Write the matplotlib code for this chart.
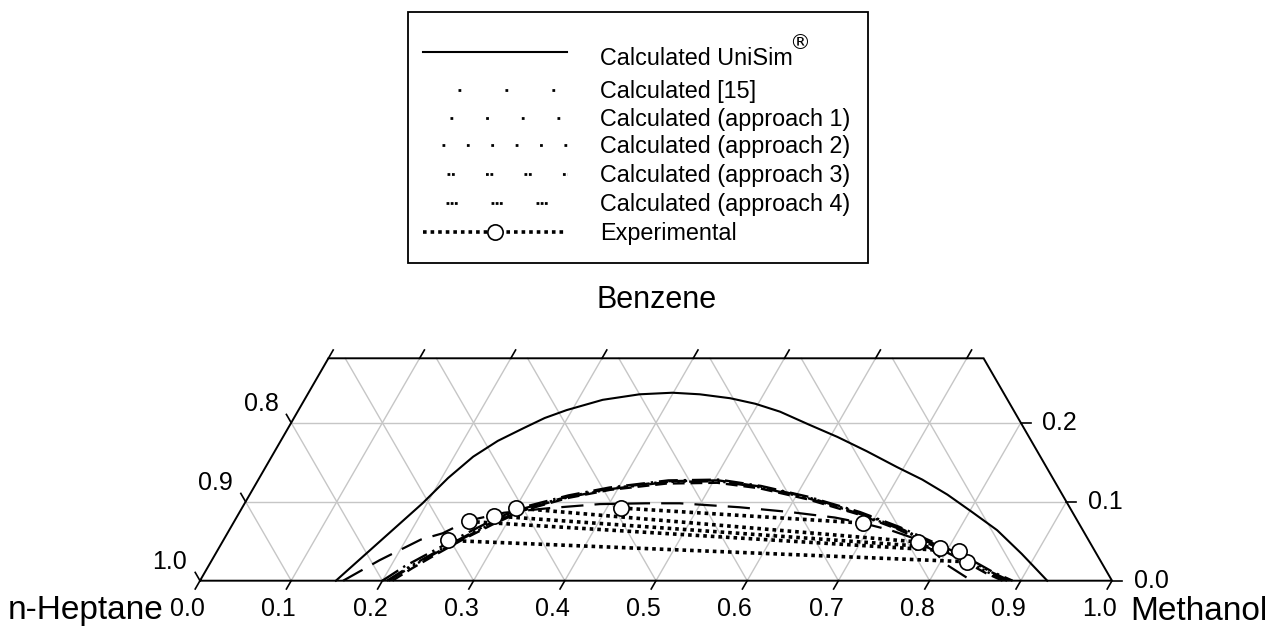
import numpy as np
import matplotlib
matplotlib.use("Agg")
import matplotlib.pyplot as plt
from matplotlib.patches import Rectangle

plt.rcParams["font.family"] = ["Liberation Sans", "DejaVu Sans"]

# compositions as (methanol, benzene) mole fractions, n-heptane is the rest
unisim_methanol = [0.149, 0.195, 0.207, 0.221, 0.238, 0.258, 0.275, 0.294, 0.327, 0.364,
                   0.399, 0.430, 0.466, 0.497, 0.529, 0.568, 0.608, 0.649, 0.692, 0.728,
                   0.765, 0.803, 0.842, 0.884, 0.929]
unisim_benzene = [0.000, 0.098, 0.130, 0.157, 0.177, 0.193, 0.206, 0.216, 0.229, 0.236,
                  0.238, 0.236, 0.231, 0.224, 0.214, 0.198, 0.182, 0.164, 0.144, 0.128,
                  0.109, 0.087, 0.064, 0.034, 0.000]

ref15_methanol = [0.157, 0.184, 0.216, 0.236, 0.256, 0.290, 0.338, 0.390, 0.440, 0.477,
                  0.545, 0.603, 0.656, 0.690, 0.725, 0.755, 0.785, 0.809, 0.846]
ref15_benzene = [0.000, 0.026, 0.052, 0.060, 0.076, 0.086, 0.092, 0.097, 0.098, 0.098,
                 0.093, 0.087, 0.080, 0.073, 0.064, 0.054, 0.038, 0.020, 0.000]

app1_methanol = [0.200, 0.215, 0.235, 0.255, 0.278, 0.305, 0.350, 0.390, 0.450, 0.505,
                 0.555, 0.615, 0.680, 0.733, 0.789, 0.827, 0.864, 0.891]
app1_benzene = [0.000, 0.018, 0.036, 0.054, 0.073, 0.092, 0.108, 0.118, 0.127, 0.128,
                0.120, 0.106, 0.087, 0.068, 0.045, 0.029, 0.011, 0.000]

app2_methanol = [0.211, 0.225, 0.243, 0.262, 0.285, 0.310, 0.352, 0.392, 0.450, 0.505,
                 0.555, 0.615, 0.680, 0.733, 0.787, 0.823, 0.856, 0.880]
app2_benzene = [0.000, 0.016, 0.034, 0.052, 0.071, 0.089, 0.105, 0.115, 0.123, 0.124,
                0.117, 0.103, 0.084, 0.065, 0.042, 0.026, 0.010, 0.000]

app3_methanol = [0.205, 0.220, 0.240, 0.260, 0.282, 0.308, 0.352, 0.392, 0.450, 0.505,
                 0.556, 0.616, 0.680, 0.733, 0.788, 0.826, 0.862, 0.888]
app3_benzene = [0.000, 0.017, 0.036, 0.054, 0.073, 0.091, 0.107, 0.117, 0.126, 0.127,
                0.119, 0.105, 0.086, 0.067, 0.044, 0.028, 0.011, 0.000]

app4_methanol = [0.207, 0.222, 0.241, 0.261, 0.283, 0.309, 0.352, 0.392, 0.450, 0.505,
                 0.556, 0.616, 0.680, 0.733, 0.788, 0.825, 0.860, 0.885]
app4_benzene = [0.000, 0.017, 0.035, 0.053, 0.072, 0.090, 0.106, 0.116, 0.125, 0.126,
                0.118, 0.104, 0.085, 0.066, 0.043, 0.027, 0.010, 0.000]

# experimental tie lines: heptane-rich end and methanol-rich end
exp_left_methanol = [0.246, 0.257, 0.281, 0.300, 0.416]
exp_left_benzene = [0.051, 0.075, 0.082, 0.092, 0.092]
exp_right_methanol = [0.829, 0.814, 0.790, 0.763, 0.690]
exp_right_benzene = [0.024, 0.037, 0.042, 0.049, 0.073]

tick_values = [0.0, 0.1, 0.2, 0.3, 0.4, 0.5, 0.6, 0.7, 0.8, 0.9, 1.0]
top_tick_values = [0.0, 0.1, 0.2, 0.3, 0.4, 0.5, 0.6, 0.7]
benzene_ticks = [0.0, 0.1, 0.2]
heptane_labels = ["1.0", "0.9", "0.8"]

legend_labels = ["Calculated UniSim", "Calculated [15]", "Calculated (approach 1)",
                 "Calculated (approach 2)", "Calculated (approach 3)",
                 "Calculated (approach 4)", "Experimental"]

B_TOP = 0.2816
SQ = np.sqrt(3) / 2
PX = 912.0          # pixels per unit of composition
X0, Y0 = 200.0, 580.7
FS = 18
LFS = 16.8


def tern(m, b):
    m = np.asarray(m, float)
    b = np.asarray(b, float)
    return m + b / 2, b * SQ


def px(x, y):
    return (x - X0) / PX, (Y0 - y) / PX


fig = plt.figure(figsize=(12.79, 6.33), dpi=100)
ax = fig.add_axes([0, 0, 1, 1])
ax.set_xlim(-X0 / PX, (1279 - X0) / PX)
ax.set_ylim(-(633 - Y0) / PX, Y0 / PX)
ax.axis("off")

grid_kw = dict(color="#c6c6c6", lw=1.0, zorder=1)
for v in np.arange(1, 10) / 10:
    bmax = min(B_TOP, 1 - v)
    # constant methanol
    x, y = tern([v, v], [0, bmax])
    ax.plot(x, y, **grid_kw)
    # constant heptane
    x, y = tern([1 - v, 1 - v - bmax], [0, bmax])
    ax.plot(x, y, **grid_kw)
for v in [0.1, 0.2]:
    x, y = tern([0, 1 - v], [v, v])
    ax.plot(x, y, **grid_kw)

# frame of the truncated triangle
x, y = tern([0, 1, 1 - B_TOP, 0, 0], [0, 0, B_TOP, B_TOP, 0])
ax.plot(x, y, color="black", lw=1.4, zorder=3, solid_joinstyle="miter")

tl = 0.0105
for m in tick_values:
    x, y = tern(m, 0)
    ax.plot([x, x - 0.5 * tl], [y, y - SQ * tl], color="black", lw=1.2, zorder=3)
    ax.text(x - 12.5 / PX, px(0, 609)[1], f"{m:.1f}", ha="center", va="center", fontsize=FS)
for m in top_tick_values:
    x, y = tern(m, B_TOP)
    ax.plot([x, x + 0.5 * tl], [y, y + SQ * tl], color="black", lw=1.2, zorder=3)
for b, lab in zip(benzene_ticks, heptane_labels):
    x, y = tern(0, b)
    ax.plot([x, x - 0.5 * tl], [y, y + SQ * tl], color="black", lw=1.2, zorder=3)
    ax.text(x - 30 / PX, y + 19 / PX, lab, ha="center", va="center", fontsize=FS)
for b in benzene_ticks:
    x, y = tern(1 - b, b)
    ax.plot([x, x + 0.011], [y, y], color="black", lw=1.2, zorder=3)
    ax.text(x + 39 / PX, y, f"{b:.1f}", ha="center", va="center", fontsize=FS)

ax.text(*px(86, 611), "n-Heptane", ha="center", va="center", fontsize=24)
ax.text(*px(1199, 612), "Methanol", ha="center", va="center", fontsize=24)
ax.text(*px(657, 300), "Benzene", ha="center", va="center", fontsize=22)

# curves
ax.plot(*tern(unisim_methanol, unisim_benzene), color="black", lw=1.5, zorder=4)
ax.plot(*tern(ref15_methanol, ref15_benzene), color="black", lw=1.6, zorder=4,
        dashes=(10, 5))
ax.plot(*tern(app1_methanol, app1_benzene), color="black", lw=1.7, zorder=4,
        dashes=(8, 2.5, 1, 2.5))
ax.plot(*tern(app2_methanol, app2_benzene), color="black", lw=1.7, zorder=4,
        dashes=(5, 2.5))
ax.plot(*tern(app3_methanol, app3_benzene), color="black", lw=1.7, zorder=4,
        dashes=(8, 2, 1, 2, 1, 2))
ax.plot(*tern(app4_methanol, app4_benzene), color="black", lw=1.7, zorder=4,
        dashes=(8, 1.5, 1, 1.5, 1, 1.5, 1, 1.5))

for i in range(len(exp_left_methanol)):
    x, y = tern([exp_left_methanol[i], exp_right_methanol[i]],
                [exp_left_benzene[i], exp_right_benzene[i]])
    ax.plot(x, y, color="black", lw=2.6, dashes=(1, 1.1), zorder=5)
ax.plot(*tern(exp_left_methanol, exp_left_benzene), "o", ms=11, mfc="white",
        mec="black", mew=1.2, zorder=6)
ax.plot(*tern(exp_right_methanol, exp_right_benzene), "o", ms=11, mfc="white",
        mec="black", mew=1.2, zorder=6)

# legend, drawn in pixel space
lax = fig.add_axes([0, 0, 1, 1])
lax.set_xlim(0, 1279)
lax.set_ylim(633, 0)
lax.axis("off")
lax.add_patch(Rectangle((408, 12), 460, 251, fill=False, ec="black", lw=1.3))
row_y = [52, 90, 118, 145, 174, 203, 232]
text_base = [65, 98, 126, 153, 182, 211, 240]
sample_styles = [
    dict(lw=1.5, ls="-"),
    dict(lw=2.0, ls=(4.3, (1, 15.9))),
    dict(lw=2.0, ls=(3.13, (1, 11.84))),
    dict(lw=2.0, ls=(1.94, (1, 7.78))),
    dict(lw=2.0, ls=(5.2, (1, 0.6, 1, 11.25))),
    dict(lw=2.0, ls=(7.9, (1, 0.5, 1, 0.5, 1, 12.2))),
    dict(lw=2.6, ls=(0, (1, 1.1))),
]
texts = []
for ry, tb, lab, st in zip(row_y, text_base, legend_labels, sample_styles):
    lax.plot([423, 567], [ry, ry], color="black", **st)
    texts.append(lax.text(600, tb, lab, ha="left", va="baseline", fontsize=LFS))
lax.plot([495], [row_y[-1]], "o", ms=11, mfc="white", mec="black", mew=1.2)

# registered mark after "UniSim"
fig.canvas.draw()
bb = texts[0].get_window_extent()
lax.text(bb.x1 - 4, 43, "®", ha="left", va="center", fontsize=15,
         family="DejaVu Sans")

fig.savefig("out.png", dpi=100)
